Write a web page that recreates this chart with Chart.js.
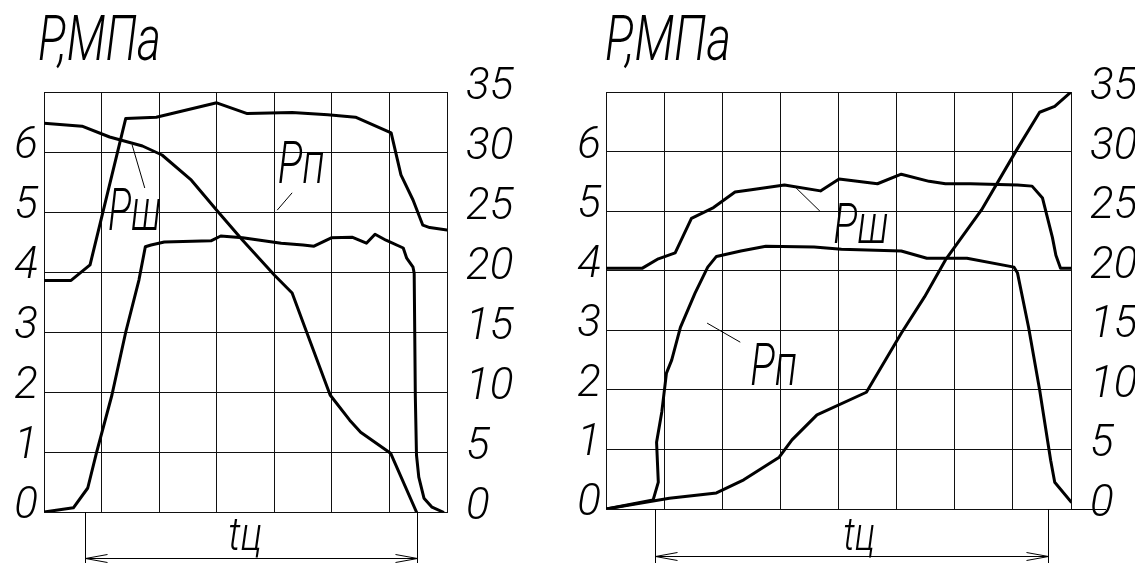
<!DOCTYPE html>
<html><head><meta charset="utf-8">
<script src="https://cdn.jsdelivr.net/npm/chart.js@4.4.1/dist/chart.umd.min.js"></script>
<style>
html,body{margin:0;padding:0;background:#fff;}
#wrap{position:relative;width:1135px;height:563px;overflow:hidden;}
canvas{position:absolute;top:0;}
</style></head><body>
<div id="wrap"><canvas id="c1" width="567" height="563" style="left:0"></canvas><canvas id="c2" width="568" height="563" style="left:567px"></canvas></div>
<script>
// ---------- data ----------
const leftAxisLabels  = ['0','1','2','3','4','5','6',''];
const rightAxisLabels = ['0','5','10','15','20','25','30','35'];
const titleText = 'P,МПа';

// left chart
const L_top_t  = [0, 0.47, 0.80, 1.42, 1.95, 3.00, 3.53, 4.31, 4.93, 5.41, 6.03, 6.20, 6.41, 6.58, 6.70, 7.00];
const L_top_p  = [19.3, 19.3, 20.6, 32.8, 32.9, 34.1, 33.2, 33.3, 33.1, 32.9, 31.6, 28.1, 26.0, 23.9, 23.7, 23.5];
const L_fall_t = [0, 0.66, 1.14, 1.52, 1.71, 2.05, 2.56, 3.00, 3.45, 4.00, 4.31, 4.55, 4.97, 5.31, 5.50, 6.02, 6.47];
const L_fall_p = [6.48, 6.43, 6.25, 6.15, 6.10, 5.95, 5.53, 5.03, 4.53, 3.95, 3.65, 3.03, 1.95, 1.53, 1.33, 0.98, 0.00];
const L_mid_t  = [0, 0.51, 0.76, 0.91, 1.18, 1.42, 1.65, 1.76, 1.86, 2.09, 2.90, 3.07, 3.45, 4.12, 4.50, 4.69, 4.99, 5.35, 5.60, 5.75, 5.94, 6.24, 6.30, 6.41, 6.43, 6.45, 6.47, 6.51, 6.60, 6.74, 6.93];
const L_mid_p  = [0, 0.07, 0.40, 0.98, 1.95, 3.00, 3.87, 4.42, 4.45, 4.50, 4.52, 4.60, 4.57, 4.48, 4.45, 4.43, 4.57, 4.58, 4.48, 4.63, 4.53, 4.40, 4.23, 4.08, 3.98, 1.92, 0.95, 0.58, 0.23, 0.08, 0];

// right chart
const R_top_t  = [0, 0.62, 0.90, 1.19, 1.47, 1.85, 2.22, 2.50, 3.07, 3.69, 4.01, 4.67, 5.08, 5.56, 5.84, 6.27, 7.08, 7.33, 7.51, 7.68, 7.74, 7.82, 8.00];
const R_top_p  = [20.2, 20.2, 21.0, 21.5, 24.4, 25.3, 26.6, 26.8, 27.2, 26.7, 27.7, 27.3, 28.1, 27.5, 27.3, 27.3, 27.2, 27.1, 26.1, 22.8, 21.3, 20.2, 20.2];
const R_mid_t  = [0, 0.81, 0.90, 0.87, 0.96, 1.04, 1.13, 1.28, 1.53, 1.75, 1.90, 2.32, 2.75, 3.58, 4.05, 5.08, 5.52, 6.21, 7.02, 7.08, 7.27, 7.46, 7.65, 7.72, 8.00];
const R_mid_p  = [0, 0.15, 0.45, 1.12, 1.63, 2.28, 2.50, 3.05, 3.62, 4.06, 4.24, 4.33, 4.41, 4.40, 4.36, 4.33, 4.21, 4.21, 4.06, 3.96, 3.05, 2.00, 0.82, 0.45, 0.12];
const R_rise_t = [0, 1.09, 1.90, 2.37, 2.98, 3.20, 3.63, 4.48, 5.08, 5.48, 5.84, 6.46, 7.06, 7.46, 7.72, 8.00];
const R_rise_p = [0, 0.18, 0.27, 0.49, 0.87, 1.16, 1.58, 1.96, 2.95, 3.56, 4.18, 5.02, 6.02, 6.66, 6.76, 7.00];

// ---------- helpers ----------
const FAMILY = 'Roboto, "Liberation Sans", sans-serif';
const pts = (xs, ys) => xs.map((x, i) => ({x, y: ys[i]}));
const line = (data, axis) => ({data, yAxisID: axis, borderColor: '#000', borderWidth: 3, pointRadius: 0, tension: 0, fill: false, borderJoinStyle: 'round', borderCapStyle: 'round'});

function drawText(ctx, text, x, y, size, width) {
  ctx.save();
  ctx.font = 'italic 300 ' + size + 'px ' + FAMILY;
  ctx.textBaseline = 'alphabetic';
  ctx.textAlign = 'left';
  const m = ctx.measureText(text).width;
  ctx.translate(x, y);
  ctx.scale(width / m, 1);
  ctx.fillText(text, 0, 0);
  ctx.restore();
}
function seg(ctx, x1, y1, x2, y2, w) {
  ctx.beginPath(); ctx.lineWidth = w; ctx.moveTo(x1, y1); ctx.lineTo(x2, y2); ctx.stroke();
}

const annot = {
  id: 'annot',
  afterDraw(chart, args, o) {
    const ctx = chart.ctx, sx = chart.scales.x, sy = chart.scales.y, ca = chart.chartArea;
    const X = v => sx.getPixelForValue(v), Y = v => sy.getPixelForValue(v);
    ctx.save();
    ctx.fillStyle = '#000'; ctx.strokeStyle = '#000';
    drawText(ctx, titleText, ca.left + o.title[0], o.title[1], 62, o.title[2]);
    o.labels.forEach(l => {
      drawText(ctx, l.text, X(l.at[0]), Y(l.at[1]), l.size, l.w);
      seg(ctx, X(l.lead[0]), Y(l.lead[1]), X(l.lead[2]), Y(l.lead[3]), 1);
    });
    if (o.baseExt) seg(ctx, ca.right, Math.round(ca.bottom) + 0.5, ca.right + o.baseExt, Math.round(ca.bottom) + 0.5, 1);
    const d = o.dim, xa = Math.round(X(d.x1)) + 0.5, xb = Math.round(X(d.x2)) + 0.5, ya = Math.round(ca.bottom + d.arrowY) + 0.5;
    seg(ctx, xa, ca.bottom, xa, 563, 1);
    seg(ctx, xb, ca.bottom, xb, 563, 1);
    seg(ctx, xa, ya, xb, ya, 1);
    seg(ctx, xa, ya, xa + 22, ya - 4, 1); seg(ctx, xa, ya, xa + 22, ya + 4, 1);
    seg(ctx, xb, ya, xb - 22, ya - 4, 1); seg(ctx, xb, ya, xb - 22, ya + 4, 1);
    drawText(ctx, 'tц', X(d.tx), ca.bottom + d.ty, 46, d.tw);
    ctx.restore();
  }
};

function makeChart(id, xmax, datasets, yw, y2w, xh, lpad, rpad, opts) {
  const tickFont = {family: FAMILY, size: 44, style: 'italic', weight: 300};
  return new Chart(document.getElementById(id), {
    type: 'line',
    data: {datasets},
    plugins: [annot],
    options: {
      responsive: false, animation: false, devicePixelRatio: 1,
      layout: {padding: {top: 92, left: 0, right: 0, bottom: 0}},
      plugins: {legend: {display: false}, tooltip: {enabled: false}, annot: opts},
      scales: {
        x: {type: 'linear', min: 0, max: xmax,
            ticks: {display: false, stepSize: 1},
            grid: {color: '#111', lineWidth: 1, drawTicks: false},
            border: {display: true, color: '#111', width: 1},
            afterFit: s => { s.height = xh; }},
        y: {type: 'linear', position: 'left', min: 0, max: 7,
            ticks: {stepSize: 1, padding: lpad, labelOffset: -5, color: '#000', font: tickFont,
                    callback: (v, i) => leftAxisLabels[i]},
            grid: {color: '#111', lineWidth: 1, drawTicks: false},
            border: {display: true, color: '#111', width: 1},
            afterFit: s => { s.width = yw; }},
        y2: {type: 'linear', position: 'right', min: 0, max: 35,
            ticks: {stepSize: 5, padding: rpad, labelOffset: -4, color: '#000', font: tickFont,
                    callback: (v, i) => rightAxisLabels[i]},
            grid: {drawOnChartArea: false, drawTicks: false},
            border: {display: true, color: '#111', width: 1},
            afterFit: s => { s.width = y2w; }}
      }
    }
  });
}

makeChart('c1', 7, [
  line(pts(L_top_t, L_top_p), 'y2'),
  line(pts(L_fall_t, L_fall_p), 'y'),
  line(pts(L_mid_t, L_mid_p), 'y')
], 44, 120, 51, 6, 19, {
  title: [-6, 60, 123],
  labels: [
    {text: 'Pш', at: [1.11, 4.70], size: 59, w: 53, lead: [1.53, 6.12, 1.75, 5.40]},
    {text: 'Pп', at: [4.06, 5.48], size: 59, w: 47, lead: [4.31, 5.32, 4.05, 5.03]}
  ],
  dim: {x1: 0.71, x2: 6.48, arrowY: 46, tx: 3.20, ty: 38, tw: 34}
});

makeChart('c2', 8, [
  line(pts(R_top_t, R_top_p), 'y2'),
  line(pts(R_mid_t, R_mid_p), 'y'),
  line(pts(R_rise_t, R_rise_p), 'y')
], 39, 64, 54, 5, 19, {
  title: [-1, 60, 126],
  labels: [
    {text: 'Pш', at: [3.91, 4.46], size: 55, w: 55, lead: [3.27, 5.39, 3.68, 5.00]},
    {text: 'Pп', at: [2.48, 2.08], size: 59, w: 47, lead: [1.74, 3.12, 2.31, 2.80]}
  ],
  baseExt: 35,
  dim: {x1: 0.84, x2: 7.60, arrowY: 47, tx: 4.08, ty: 41, tw: 32}
});
</script>
</body></html>
